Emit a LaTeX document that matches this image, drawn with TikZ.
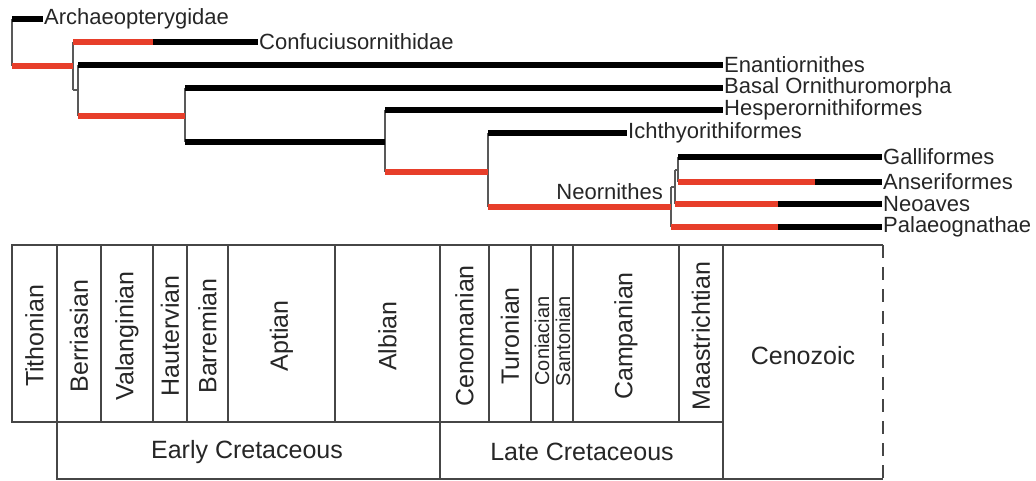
\documentclass[tikz,border=0pt]{standalone}
\usepackage{fontspec}
\setmainfont{Liberation Sans}
\definecolor{brred}{RGB}{231,62,42}
\definecolor{tbl}{RGB}{70,70,70}

\begin{document}
\begin{tikzpicture}[x=1pt, y=-1pt,
  bk/.style={line width=5.5pt, black},
  rd/.style={line width=5.5pt, brred},
  lk/.style={line width=1.2pt, black!65},
  tx/.style={anchor=west, inner sep=1pt, font=\fontsize{22}{22}\selectfont, text=black!85},
  cell/.style={draw=tbl, line width=1.3pt},
  stg/.style={rotate=90, inner sep=0pt, font=\fontsize{25}{25}\selectfont, text=black!85},
  era/.style={font=\fontsize{25}{25}\selectfont, text=black!85}]
\useasboundingbox (0,0) rectangle (1036,481);

\coordinate (r1) at (12,19);
\coordinate (r2) at (12,66);
\coordinate (n1) at (73,66);
\coordinate (n1a) at (73,42);
\coordinate (n1b) at (73,90);
\coordinate (n2) at (78,90);
\coordinate (n2a) at (78,65);
\coordinate (n2b) at (78,116);
\coordinate (n3) at (185,116);
\coordinate (n3a) at (185,88);
\coordinate (n3b) at (185,142);
\coordinate (n4) at (385,142);
\coordinate (n4a) at (385,110);
\coordinate (n4b) at (385,172);
\coordinate (n5) at (488,172);
\coordinate (n5a) at (488,133);
\coordinate (n5b) at (488,207);
\coordinate (n6) at (671,207);
\coordinate (n6a) at (671,187);
\coordinate (n6b) at (671,227);
\coordinate (n7) at (675,187);
\coordinate (n7a) at (675,170);
\coordinate (n7b) at (675,204);
\coordinate (n8) at (678,170);
\coordinate (n8a) at (678,157);
\coordinate (n8b) at (678,182);
\coordinate (c1) at (153,42);
\coordinate (a1) at (815,182);
\coordinate (v1) at (778,204);
\coordinate (v2) at (778,227);

\node[tx] (arc) at (43,19) {Archaeopterygidae};
\node[tx] (con) at (258,42) {Confuciusornithidae};
\node[tx] (ena) at (723,65) {Enantiornithes};
\node[tx] (bas) at (723,88) {Basal Ornithuromorpha};
\node[tx] (hes) at (723,110) {Hesperornithiformes};
\node[tx] (ich) at (627,133) {Ichthyorithiformes};
\node[tx] (gal) at (882,157) {Galliformes};
\node[tx] (ans) at (882,182) {Anseriformes};
\node[tx] (neo) at (882,204) {Neoaves};
\node[tx] (pal) at (882,227) {Palaeognathae};
\node[tx, anchor=base east] (nrn) at (664,200) {Neornithes};

\draw[lk] (r1) -- (r2);
\draw[lk] (n1a) -- (n1b);
\draw[lk] (n1b) -- (n2);
\draw[lk] (n2a) -- (n2b);
\draw[lk] (n3a) -- (n3b);
\draw[lk] (n4a) -- (n4b);
\draw[lk] (n5a) -- (n5b);
\draw[lk] (n6a) -- (n6b);
\draw[lk] (n6a) -- (n7);
\draw[lk] (n7a) -- (n7b);
\draw[lk] (n7a) -- (n8);
\draw[lk] (n8a) -- (n8b);

\draw[bk] (r1) -- (arc.west);
\draw[rd] (r2) -- (n1);
\draw[rd] (n1a) -- (c1);
\draw[bk] (c1) -- (con.west);
\draw[bk] (n2a) -- (ena.west);
\draw[rd] (n2b) -- (n3);
\draw[bk] (n3a) -- (bas.west);
\draw[bk] (n3b) -- (n4);
\draw[bk] (n4a) -- (hes.west);
\draw[rd] (n4b) -- (n5);
\draw[bk] (n5a) -- (ich.west);
\draw[rd] (n5b) -- (n6);
\draw[bk] (n8a) -- (gal.west);
\draw[rd] (n8b) -- (a1);
\draw[bk] (a1) -- (ans.west);
\draw[rd] (n7b) -- (v1);
\draw[bk] (v1) -- (neo.west);
\draw[rd] (n6b) -- (v2);
\draw[bk] (v2) -- (pal.west);

\foreach \a/\b/\t in {12/57/Tithonian, 57/101/Berriasian, 101/153/Valanginian,
  153/187/Hautervian, 187/228/Barremian, 228/335/Aptian, 335/440/Albian,
  440/489/Cenomanian, 489/531/Turonian, 573/679/Campanian, 679/723/Maastrichtian}
{
  \draw[cell] (\a,245) rectangle (\b,422);
  \node[stg] (\t) at ({(\a+\b)/2},336) {\t};
}
\draw[cell] (531,245) rectangle (553,422);
\draw[cell] (553,245) rectangle (573,422);
\node[stg, font=\fontsize{20}{20}\selectfont] (coni) at (542,341) {Coniacian};
\node[stg, font=\fontsize{20}{20}\selectfont] (sant) at (563,341) {Santonian};

\draw[cell] (57,422) rectangle (440,479);
\draw[cell] (440,422) rectangle (723,479);
\draw[cell] (883,245) -- (723,245) -- (723,479) -- (883,479);
\draw[cell, dash pattern=on 13pt off 9pt] (883,245) -- (883,479);
\node[era] (ec) at (247,452) {Early Cretaceous};
\node[era] (lc) at (582,452) {Late Cretaceous};
\node[era] (cz) at (803,356) {Cenozoic};
\end{tikzpicture}
\end{document}
